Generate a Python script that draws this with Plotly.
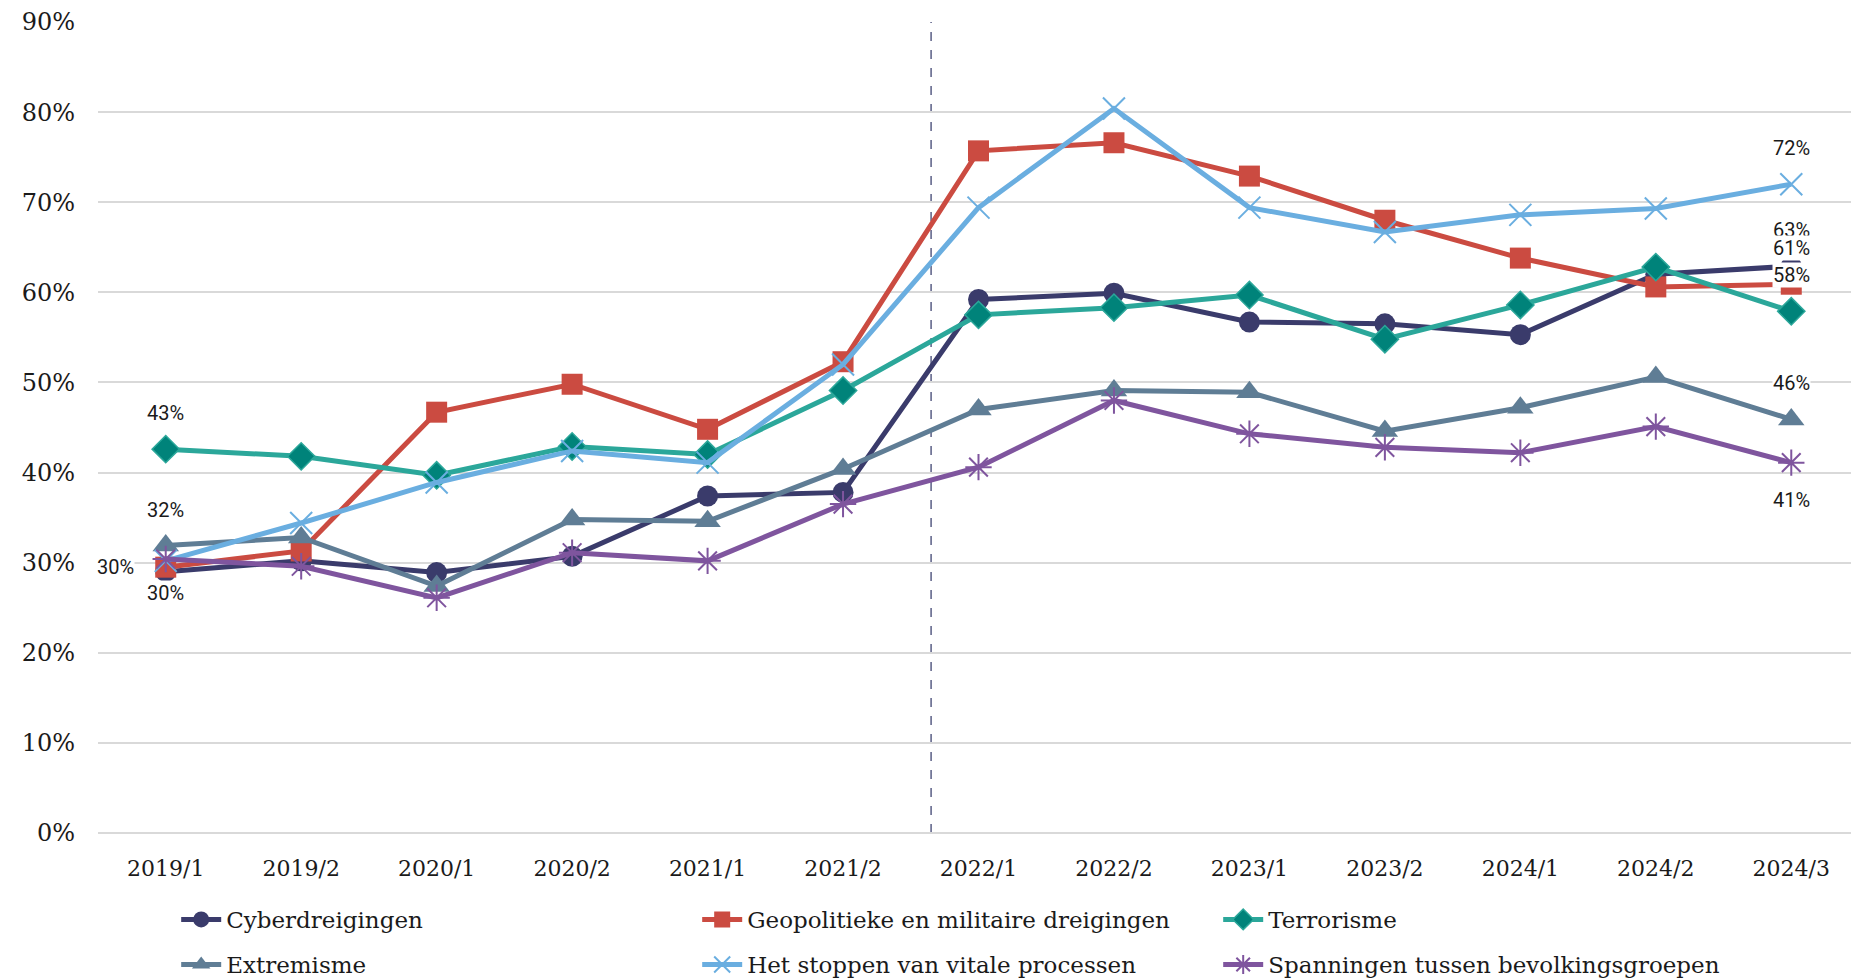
import plotly.graph_objects as go

# Survey waves
periods = ["2019/1", "2019/2", "2020/1", "2020/2", "2021/1", "2021/2", "2022/1",
           "2022/2", "2023/1", "2023/2", "2024/1", "2024/2", "2024/3"]

# Share of respondents (%) per threat
cyber = [29.0, 30.2, 28.9, 30.7, 37.4, 37.8, 59.2, 59.9, 56.7, 56.5, 55.3, 62.0, 62.9]
geopolitiek = [29.5, 31.3, 46.7, 49.8, 44.8, 52.3, 75.7, 76.6, 72.9, 68.0, 63.8, 60.6, 60.9]
terrorisme = [42.6, 41.8, 39.7, 42.9, 42.0, 49.1, 57.5, 58.3, 59.7, 54.8, 58.6, 62.8, 57.9]
extremisme = [31.9, 32.8, 27.4, 34.8, 34.6, 40.4, 47.0, 49.1, 48.9, 44.6, 47.2, 50.6, 45.9]
vitale = [30.2, 34.4, 38.9, 42.4, 41.1, 52.0, 69.4, 80.4, 69.4, 66.7, 68.6, 69.3, 72.0]
spanningen = [30.4, 29.6, 26.1, 31.1, 30.2, 36.5, 40.6, 48.0, 44.3, 42.8, 42.2, 45.1, 41.1]

series_names = ["Cyberdreigingen", "Geopolitieke en militaire dreigingen", "Terrorisme",
                "Extremisme", "Het stoppen van vitale processen",
                "Spanningen tussen bevolkingsgroepen"]

# Data labels shown in the chart: (series index, point index, text, position)
data_labels = [
    (2, 0, "43%", "above"), (3, 0, "32%", "above"), (1, 0, "30%", "left"),
    (0, 0, "30%", "below_near"),
    (4, 12, "72%", "above"), (0, 12, "63%", "above"), (1, 12, "61%", "above"),
    (2, 12, "58%", "above"), (3, 12, "46%", "above"), (5, 12, "41%", "below"),
]

# position of the dashed separator between waves (category units)
separator_x = 5.65

values = [cyber, geopolitiek, terrorisme, extremisme, vitale, spanningen]

styles = [
    dict(color="#3a3b6b", symbol="circle", size=21, mcolor="#3a3b6b", lw=0, lcolor="#3a3b6b"),
    dict(color="#cb4b41", symbol="square", size=21, mcolor="#cb4b41", lw=0, lcolor="#cb4b41"),
    dict(color="#2ba79a", symbol="diamond", size=21, mcolor="#00837a", lw=1.5, lcolor="#2ba79a"),
    dict(color="#5f7d95", symbol="triangle-up", size=23, mcolor="#5f7d95", lw=0, lcolor="#5f7d95"),
    dict(color="#6aaee0", symbol="x-thin-open", size=22, mcolor="#6aaee0", lw=2, lcolor="#6aaee0"),
    dict(color="#7f559e", symbol="asterisk-open", size=22, mcolor="#7f559e", lw=2, lcolor="#7f559e"),
]

fig = go.Figure()

for i, (name, vals, st) in enumerate(zip(series_names, values, styles)):
    fig.add_trace(go.Scatter(
        x=periods, y=vals, name=name, mode="lines+markers",
        line=dict(color=st["color"], width=5),
        marker=dict(symbol=st["symbol"], size=st["size"], color=st["mcolor"],
                    line=dict(width=st["lw"], color=st["lcolor"])),
        legend="legend" if i < 3 else "legend2",
        hovertemplate="%{x}: %{y:.0f}%<extra>" + name + "</extra>",
    ))

shifts = {"above": (0, 36), "below": (0, -37), "below_near": (0, -21), "left": (-50, 0)}
for s, p, txt, pos in data_labels:
    dx, dy = shifts[pos]
    fig.add_annotation(
        x=periods[p], y=values[s][p], text=txt, showarrow=False,
        xshift=dx, yshift=dy, bgcolor="white", borderpad=0,
        font=dict(family="Roboto", size=20, color="#1a1a1a"),
    )

fig.add_shape(type="line", xref="x", yref="y", x0=separator_x, x1=separator_x,
              y0=0, y1=90, line=dict(color="#5a5e85", width=1.5, dash="dash"), layer="below")

legend_common = dict(
    orientation="h", xanchor="left", x=0.0444, yanchor="top", yref="container",
    entrywidth=466, entrywidthmode="pixels", itemwidth=40,
    font=dict(family="DejaVu Serif", size=23, color="#1a1a1a"),
    bgcolor="rgba(0,0,0,0)", traceorder="normal",
)

# page body adds an 8px offset, so the figure is 8px smaller than the window
fig.update_layout(
    width=1851, height=972,
    paper_bgcolor="white", plot_bgcolor="white",
    margin=dict(l=90, r=0, t=14, b=147, autoexpand=False),
    showlegend=True,
    legend=dict(**legend_common, y=0.0844),
    legend2=dict(**legend_common, y=0.038),
    hovermode="closest",
)

fig.update_xaxes(
    type="category", range=[-0.5, 12.5], showgrid=False, showline=False,
    ticks="", tickfont=dict(family="DejaVu Serif", size=22, color="#1a1a1a"),
    ticklabelstandoff=20, automargin=False,
)
fig.update_yaxes(
    range=[0, 90], dtick=10, ticksuffix="%", showgrid=True,
    gridcolor="#d9d9d9", gridwidth=2, zeroline=True, zerolinecolor="#d9d9d9",
    zerolinewidth=2, showline=False, ticks="",
    tickfont=dict(family="DejaVu Serif", size=24, color="#1a1a1a"),
    ticklabelstandoff=22, automargin=False,
)

fig.write_html("out.html")
